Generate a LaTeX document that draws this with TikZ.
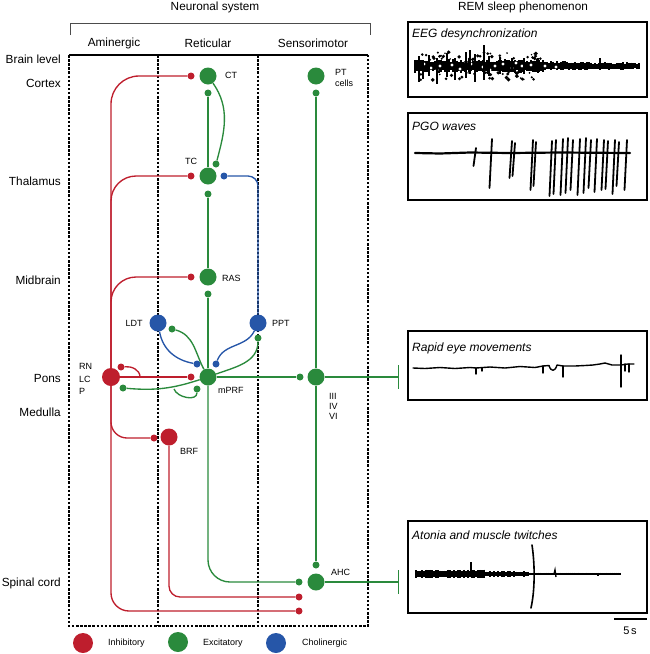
\documentclass[tikz,border=0pt]{standalone}
\usepackage{fontspec}
\setmainfont{Liberation Sans}
\usetikzlibrary{arrows.meta}
\definecolor{inh}{RGB}{190,30,45}
\definecolor{exc}{RGB}{42,138,60}
\definecolor{cho}{RGB}{38,86,168}
\begin{document}
\begin{tikzpicture}[x=1pt,y=-1pt,
  bigcell/.style={circle,inner sep=0pt,minimum size=17pt,fill=#1},
  syn/.style={circle,inner sep=0pt,minimum size=7pt,fill=#1},
  legcell/.style={circle,inner sep=0pt,minimum size=20pt,fill=#1},
  conn/.style={line width=1.35pt,draw=#1},
  lbl/.style={font=\fontsize{9}{10}\selectfont,inner sep=0pt,anchor=west},
  head/.style={font=\fontsize{11.8}{13}\selectfont,inner sep=0pt},
  lvl/.style={font=\fontsize{11.8}{13}\selectfont,inner sep=0pt,anchor=east},
  ttl/.style={font=\fontsize{12}{13}\selectfont\itshape,inner sep=0pt,anchor=west},
  boxdash/.style={line width=1.3pt,dash pattern=on 2.5pt off 1.6pt},
  trace/.style={line width=1.4pt,line cap=round,line join=round},
  tbar/.style={-{Bar[width=24pt,line width=1.35pt]}}
]
\useasboundingbox (0,0) rectangle (649,654);

% ---------- headers ----------
\node[head] (hns) at (215,7) {Neuronal system};
\node[head] (hrem) at (523,7) {REM sleep phenomenon};
\draw[line width=1pt,black!70] (70,35) -- (70,23) -- (370,23) -- (370,35);
\node[head] (hami) at (114,43) {Aminergic};
\node[head] (hret) at (208,43) {Reticular};
\node[head] (hsen) at (313,43) {Sensorimotor};

% ---------- frame ----------
\draw[line width=1.3pt] (69,55) -- (368,55);
\draw[boxdash] (69,55) -- (69,626) -- (368,626) -- (368,55);
\draw[boxdash] (158,55) -- (158,626);
\draw[boxdash] (258,55) -- (258,626);

% ---------- levels ----------
\node[lvl] (lbrain) at (61,59) {Brain level};
\node[lvl] (lcor) at (61,83) {Cortex};
\node[lvl] (lthal) at (61,181) {Thalamus};
\node[lvl] (lmid) at (61,280) {Midbrain};
\node[lvl] (lpons) at (61,378) {Pons};
\node[lvl] (lmed) at (61,412) {Medulla};
\node[lvl] (lspin) at (61,583) {Spinal cord};

% ---------- cells and synapses ----------
\node[bigcell=exc] (ct) at (208,76) {};
\node[syn=exc] (ctax) at (208,93) {};
\node[syn=inh] (ctinh) at (191,76) {};
\node[syn=exc] (tcex) at (216,164) {};
\node[bigcell=exc] (tc) at (208,176) {};
\node[syn=inh] (tcinh) at (191,176) {};
\node[syn=cho] (tcch) at (224,176) {};
\node[syn=exc] (tcax) at (208,194) {};
\node[bigcell=exc] (ras) at (208,277) {};
\node[syn=inh] (rasinh) at (191,277) {};
\node[syn=exc] (rasax) at (208,294) {};
\node[bigcell=cho] (ldt) at (158,323) {};
\node[bigcell=cho] (ppt) at (258,323) {};
\node[syn=exc] (gldt) at (172,329) {};
\node[syn=exc] (gppt) at (258,338) {};
\node[syn=cho] (bldt) at (197,364) {};
\node[syn=cho] (bppt) at (216,364) {};
\node[bigcell=exc] (mprf) at (208,377) {};
\node[syn=inh] (mprfinh) at (191,377) {};
\node[bigcell=inh,minimum size=18pt] (rn) at (111,377) {};
\node[syn=inh] (rnself) at (121,367) {};
\node[syn=exc] (gleft) at (123,388) {};
\node[syn=exc] (gloop) at (197,389) {};
\node[syn=exc] (iiiex) at (300,377) {};
\node[bigcell=exc] (iii) at (316,377) {};
\node[bigcell=exc] (pt) at (316,76) {};
\node[syn=exc] (ptax) at (316,93) {};
\node[bigcell=inh] (brf) at (169,437) {};
\node[syn=inh] (brfinh) at (154,438) {};
\node[syn=exc] (ahcex) at (316,565) {};
\node[bigcell=exc] (ahc) at (316,582) {};
\node[syn=exc] (ahcmp) at (299,582) {};
\node[syn=inh] (ahcbrf) at (299,597) {};
\node[syn=inh] (ahcrn) at (299,611) {};
\coordinate (rnselfend) at (140,377);
\coordinate (loopstart) at (174,389);
\coordinate (remT) at (399,377);
\coordinate (ahcT) at (399,582);

% ---------- cell labels ----------
\node[lbl] (tct) at (225,75) {CT};
\node[lbl] (tpt) at (335,72) {PT};
\node[lbl] (tcells) at (335,83) {cells};
\node[lbl,anchor=center] (ttc) at (191,161) {TC};
\node[lbl] (tras) at (222,278) {RAS};
\node[lbl,anchor=center] (tldt) at (134,323) {LDT};
\node[lbl] (tppt) at (272,323) {PPT};
\node[lbl] (tmprf) at (218,390) {mPRF};
\node[lbl] (trn) at (79,366) {RN};
\node[lbl] (tlc) at (79,379) {LC};
\node[lbl] (tp) at (79,391) {P};
\node[lbl] (tiii) at (329,396) {III};
\node[lbl] (tiv) at (329,406) {IV};
\node[lbl] (tvi) at (329,416) {VI};
\node[lbl] (tbrf) at (180,451) {BRF};
\node[lbl] (tahc) at (331,572) {AHC};

% ---------- inhibitory (aminergic) connections ----------
\draw[conn=inh,rounded corners=28pt] (rn) |- (ctinh);
\draw[conn=inh,rounded corners=25pt] (rn) |- (tcinh);
\draw[conn=inh,rounded corners=25pt] (rn) |- (rasinh);
\draw[conn=inh] (rn) -- (mprfinh);
\draw[conn=inh,rounded corners=16pt] (rn) |- (brfinh);
\draw[conn=inh,rounded corners=18pt] (rn) |- (ahcrn);
\draw[conn=inh,rounded corners=11pt] (brf) |- (ahcbrf);
\draw[conn=inh] (rnself) to[out=5,in=90] (rnselfend);

% ---------- excitatory connections ----------
\draw[conn=exc] (ctax) -- (tc);
\draw[conn=exc] (ct) to[out=-55,in=75] (tcex);
\draw[conn=exc] (tcax) -- (ras);
\draw[conn=exc] (rasax) -- (mprf);
\draw[conn=exc] (gldt) to[out=-15,in=118] (mprf);
\draw[conn=exc] (mprf) to[out=20,in=-90] (gppt);
\draw[conn=exc] (mprf) to[out=198,in=-5] (gleft);
\draw[conn=exc] (loopstart) to[out=-70,in=-90] (gloop);
\draw[conn=exc] (mprf) -- (iiiex);
\draw[conn=exc,tbar] (iii) -- (remT);
\draw[conn=exc] (ptax) -- (iii);
\draw[conn=exc] (iii) -- (ahcex);
\draw[conn=exc,tbar] (ahc) -- (ahcT);
\draw[conn=exc,rounded corners=22pt] (mprf) |- (ahcmp);

% ---------- cholinergic connections ----------
\draw[conn=cho,rounded corners=10pt] (tcch) -| (ppt);
\draw[conn=cho] (ldt) to[out=-80,in=170] (bldt);
\draw[conn=cho] (ppt) to[out=-115,in=70] (bppt);

% ---------- legend ----------
\node[legcell=inh] (leginh) at (83,643) {};
\node[lbl] (tleginh) at (108,643) {Inhibitory};
\node[legcell=exc] (legexc) at (178,642) {};
\node[lbl] (tlegexc) at (203,643) {Excitatory};
\node[legcell=cho] (legcho) at (276,643) {};
\node[lbl] (tlegcho) at (302,643) {Cholinergic};

% ---------- right panels ----------
\draw[line width=1.3pt] (408,22) rectangle (647,97);
\draw[line width=1.3pt] (408,113) rectangle (647,200);
\draw[line width=1.3pt] (408,331) rectangle (647,400);
\draw[line width=1.3pt] (408,521) rectangle (647,613);
\node[ttl] (teeg) at (412,34) {EEG desynchronization};
\node[ttl] (tpgo) at (412,126) {PGO waves};
\node[ttl] (trem) at (412,348) {Rapid eye movements};
\node[ttl] (tato) at (412,535) {Atonia and muscle twitches};
\draw[line width=1.2pt] (614,619) -- (647,619);
\node[lbl,anchor=center,font=\fontsize{11}{12}\selectfont] (tscale) at (630,631) {5\,s};

% EEG trace
\pgfmathsetseed{17}
\foreach \x in {415,417,...,639}{
  \pgfmathsetmacro\amp{\x<545 ? 4+2.5*rnd : (\x<590 ? 3+1.2*rnd : 2.5+1*rnd)}
  \pgfmathsetmacro\yc{66+1.2*(rnd-0.5)}
  \draw[line width=2.2pt] (\x,\yc-\amp) -- (\x,\yc+\amp);
}
\foreach \i in {1,...,70}{
  \pgfmathsetmacro\bx{416+125*rnd}
  \pgfmathsetmacro\by{66+(rnd<0.5 ? -1 : 1)*(6+8*rnd)}
  \pgfmathsetmacro\br{0.8+1.2*rnd}
  \fill (\bx,\by) circle (\br pt);
}
\foreach \x/\y in {424/64,431/68,440/66,452/65,460/69,471/64,483/67,495/66,503/64,512/68,522/66,531/65,437/70,466/62,490/70,516/63,545/66,556/67}{
  \fill[white] (\x,\y) circle (1.7pt);
}
\foreach \x/\a/\b in {419/56/82,423/60/79,429/55/76,437/58/84,447/53/77,455/58/80,466/52/78,470/50/74,475/54/82,484/45/80,489/56/76,500/57/74,512/58/72,524/58/74,538/58/73,600/58/70,623/62/70}{
  \draw[line width=1.3pt] (\x,\a) -- (\x,\b);
}

% PGO trace
\draw[line width=2.2pt,line cap=round] (415,153) -- (440,153.5) -- (470,152.5) -- (510,153) -- (560,152.5) -- (630,153);
\foreach \x/\a/\b in {476/148/166,492/139/188,512/141/178,515/143/176,533/140/190,536/142/186,552/141/196,556/140/194,563/139/195,568/138/193,573/140/190,580/139/195,586/138/193,591/140/188,597/139/192,604/140/190,608/141/189,615/140/194,619/142/186,627/140/190}{
  \draw[line width=1.8pt,line cap=round] (\x,\a) .. controls (\x-0.5,{(\a+\b)/2}) .. (\x-2.5,\b);
}

% REM trace
\draw[trace] (413,368) -- (425,368.5) -- (440,367.5) -- (455,368.5) -- (470,367.5) -- (476,368) -- (490,367) -- (505,368) -- (520,366.5) -- (535,367.5) -- (543,366) -- (549,365.5) .. controls (551,372) and (555,372) .. (557,365) -- (563,366) -- (575,366) -- (585,365.5) -- (593,365) -- (600,364) -- (605,363) -- (612,365) -- (621,365) -- (628,364) -- (634,364);
\draw[trace] (476,368) -- (476,374);
\draw[trace] (482,368) -- (482,371);
\draw[trace] (543,366) -- (543,373);
\draw[trace] (563,366) -- (563,377);
\draw[trace] (621,355) -- (621,387);
\draw[trace] (625,364) -- (625,371);
\draw[trace] (629,364) -- (629,372);

% Atonia trace
\pgfmathsetseed{5}
\foreach \x in {416,418,...,620}{
  \pgfmathsetmacro\amp{\x<485 ? 2.8+1.5*rnd : (\x<530 ? 1.8+1.2*rnd : 1+0.5*rnd)}
  \draw[line width=2.2pt] (\x,{574-\amp}) -- (\x,{574+\amp});
}
\draw[line width=1.4pt] (471,574) -- (471,562);
\draw[line width=1.4pt] (554,574) -- (555,570) -- (556,577);
\draw[line width=1.6pt,line cap=round] (532,545) .. controls (535,565) and (535,590) .. (531,608);
\end{tikzpicture}
\end{document}
